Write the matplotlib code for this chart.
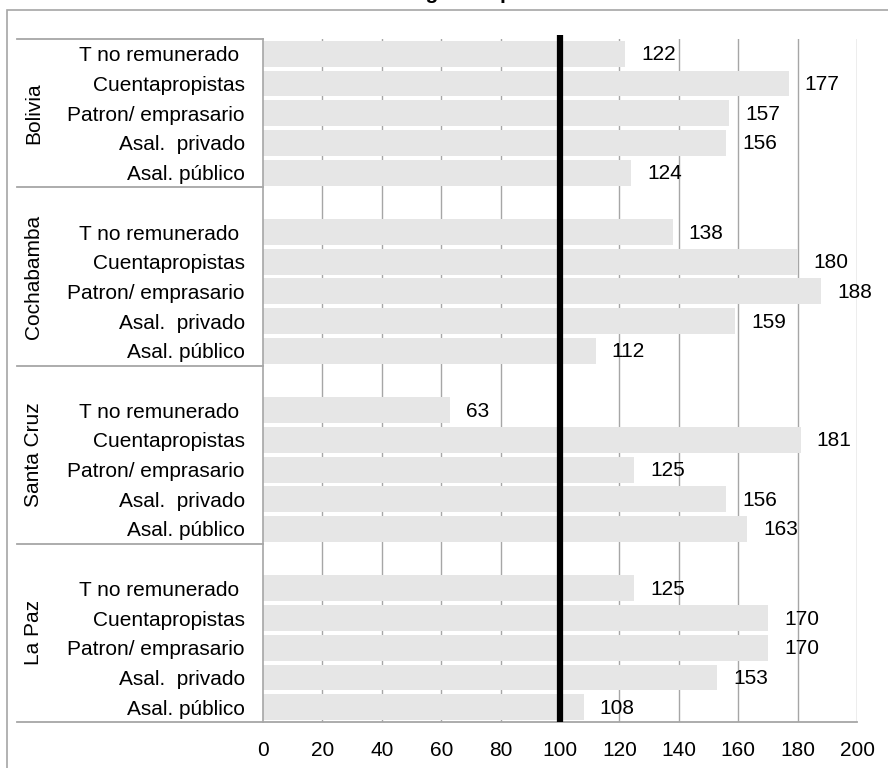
import matplotlib
matplotlib.use("Agg")
import matplotlib.pyplot as plt
from matplotlib.patches import Rectangle
from matplotlib.lines import Line2D

plt.rcParams['font.family'] = ['Liberation Sans', 'DejaVu Sans']

groups = ["Bolivia", "Cochabamba", "Santa Cruz", "La Paz"]
categories = ["T no remunerado ", "Cuentapropistas", "Patron/ emprasario",
              "Asal.  privado", "Asal. público"]
values = {
    "Bolivia":    [122, 177, 157, 156, 124],
    "Cochabamba": [138, 180, 188, 159, 112],
    "Santa Cruz": [63, 181, 125, 156, 163],
    "La Paz":     [125, 170, 170, 153, 108],
}
x_ticks = [0, 20, 40, 60, 80, 100, 120, 140, 160, 180, 200]
reference_value = 100
title = "Brecha de ingresos por sexo"

W, H = 888, 768
FS = 15
fig = plt.figure(figsize=(W / 100, H / 100), dpi=100)
ax = fig.add_axes([263 / W, (H - 722) / H, (857 - 263) / W, (722 - 39) / H])

grey = "#A6A6A6"
bar_color = "#E6E6E6"
slots_per_group = 6
n_groups = len(groups)

ypos, labels, vals = [], [], []
for gi, g in enumerate(groups):
    base = (n_groups - 1 - gi) * slots_per_group
    for ci, c in enumerate(categories):
        y = base + (len(categories) - 1 - ci)
        ypos.append(y)
        labels.append(c)
        vals.append(values[g][ci])

ax.barh(ypos, vals, height=0.87, color=bar_color, zorder=2)

for y, v in zip(ypos, vals):
    ax.annotate(str(v), xy=(v, y), xytext=(16, -1), textcoords="offset pixels",
                ha="left", va="center", fontsize=FS, color="black", zorder=5)

top = (n_groups - 1) * slots_per_group + len(categories) - 0.5
ax.set_ylim(-0.5, top)
ax.set_xlim(0, 200)

# vertical gridlines
for t in x_ticks[1:]:
    ax.axvline(t, color=grey, lw=1.0, zorder=1)

# reference line at 100
ax.add_line(Line2D([reference_value, reference_value], [-0.5, top + 0.13],
                   color="black", lw=4.5, zorder=6, clip_on=False,
                   solid_capstyle="butt"))

ax.set_xticks(x_ticks)
ax.set_xticklabels([str(t) for t in x_ticks], fontsize=FS)
ax.set_yticks(ypos)
ax.set_yticklabels(labels, fontsize=FS)
ax.tick_params(axis="x", length=0, pad=14)
ax.tick_params(axis="y", length=0, pad=13)

for s in ["top", "right", "bottom"]:
    ax.spines[s].set_visible(False)
ax.spines["left"].set_color(grey)
ax.spines["left"].set_linewidth(1.2)

# group boxes in the label column
x_left = (17 - 263) / (857 - 263)
seps = [top] + [n * slots_per_group - 0.5 for n in range(n_groups - 1, 0, -1)]
for s in seps:
    ax.add_line(Line2D([x_left, 0], [s, s], color=grey, lw=1.3,
                       transform=ax.get_yaxis_transform(), clip_on=False))
ax.add_line(Line2D([x_left, 1], [-0.5, -0.5], color=grey, lw=1.3,
                   transform=ax.get_yaxis_transform(), clip_on=False))

# group names, rotated
bounds = [top] + [n * slots_per_group - 0.5 for n in range(n_groups - 1, -1, -1)]
for gi, g in enumerate(groups):
    upper = bounds[gi]
    lower = bounds[gi + 1]
    ax.text(-(263 - 34) / (857 - 263), (upper + lower) / 2, g,
            transform=ax.get_yaxis_transform(), rotation=90,
            ha="center", va="center", fontsize=FS)

# chart area border
fig.patches.append(Rectangle((7 / W, -0.1), 1.2, (H - 10) / H + 0.1,
                             transform=fig.transFigure, fill=False,
                             edgecolor=grey, lw=1.2))

fig.text(0.5, 1.0 + 1.0 / H, title, ha="center", va="baseline",
         fontsize=15, fontweight="bold")

fig.savefig("out.png", dpi=100)
